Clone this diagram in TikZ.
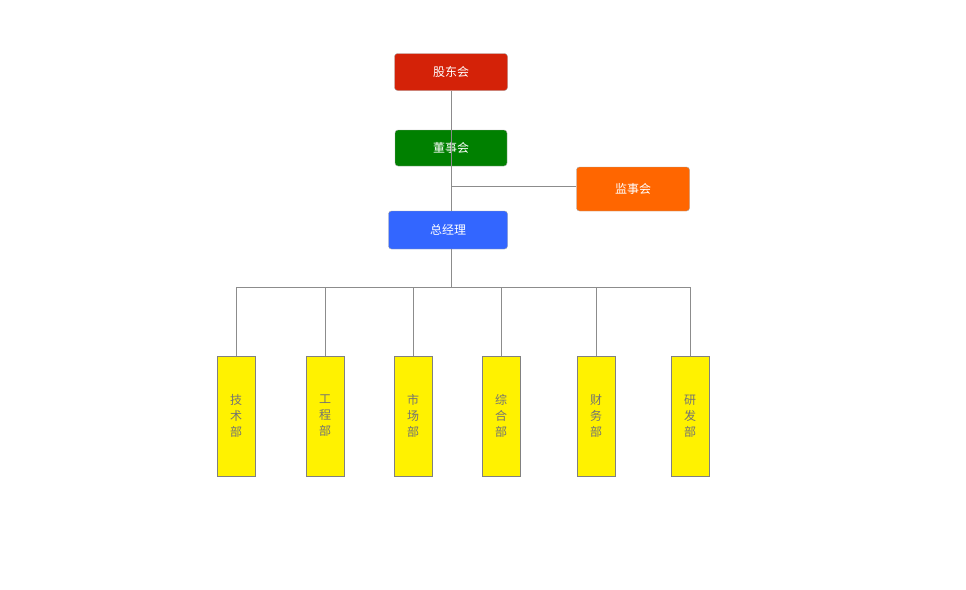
\documentclass[tikz,border=0pt]{standalone}
\usepackage{fontspec}
\setmainfont{Noto Sans CJK SC}
\begin{document}
\begin{tikzpicture}[x=1pt,y=-1pt,
  topbox/.style={draw=gray!70, rounded corners=3pt, text=white, font=\fontsize{12}{14}\selectfont, inner sep=0pt},
  dept/.style={draw=gray, fill=yellow, minimum width=38pt, minimum height=120pt, inner sep=0pt, text=gray!90!black, font=\fontsize{12}{16}\selectfont, align=center},
  conn/.style={draw=gray!90, line width=0.6pt}]
\useasboundingbox (0,0) rectangle (966,589);
\definecolor{cred}{HTML}{D42208}
\definecolor{cgreen}{HTML}{008000}
\definecolor{corange}{HTML}{FF6600}
\definecolor{cblue}{HTML}{3366FF}
\node[topbox, fill=cred, minimum width=113pt, minimum height=37pt] (gd) at (451,72) {股东会};
\node[topbox, fill=cgreen, minimum width=112pt, minimum height=36pt] (ds) at (451,148) {董事会};
\node[topbox, fill=corange, minimum width=113pt, minimum height=44pt] (js) at (633,189) {监事会};
\node[topbox, fill=cblue, minimum width=119pt, minimum height=38pt] (zjl) at (448,230) {总经理};
\coordinate (jn) at (451,186);
\coordinate (bm) at (451,287);
\coordinate (bl) at (236,287);
\coordinate (br) at (690,287);
\draw[conn] (gd.south -| jn) -- (ds.south -| jn);
\draw[conn] (ds.south -| jn) -- (zjl.north -| jn);
\draw[conn] (jn) -- (js.west |- jn);
\draw[conn] (zjl.south -| bm) -- (bm);
\draw[conn] (bl) -- (br);
\foreach \n/\x/\t in {d1/236/技\\术\\部, d2/325/工\\程\\部, d3/413/市\\场\\部, d4/501/综\\合\\部, d5/596/财\\务\\部, d6/690/研\\发\\部}{
  \node[dept] (\n) at (\x,416) {\t};
  \draw[conn] (\n.north) -- (\n.north |- bl);
}
\end{tikzpicture}
\end{document}
